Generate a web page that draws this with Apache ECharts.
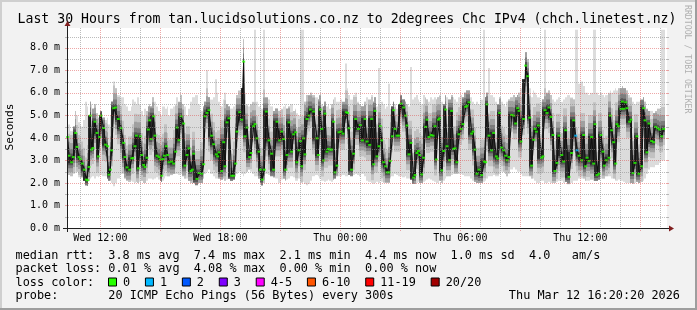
<!DOCTYPE html>
<html><head><meta charset="utf-8"><title>SmokePing</title>
<script src="https://cdn.jsdelivr.net/npm/echarts@6.0.0/dist/echarts.min.js"></script>
<style>html,body{margin:0;padding:0;background:#f2f2f2;overflow:hidden}#chart{width:697px;height:310px}</style>
</head><body><div id="chart"></div>
<script>
// ---------------- data (minutes since Wed 10:20, values in ms) ----------------
const titleText = 'Last 30 Hours from tan.lucidsolutions.co.nz to 2degrees Chc IPv4 (chch.linetest.nz)';
const unitText = 'Seconds';
const xTickMinutes = [100, 460, 820, 1180, 1540];
const xTickLabels = ['Wed 12:00', 'Wed 18:00', 'Thu 00:00', 'Thu 06:00', 'Thu 12:00'];
const yTickValues = [0, 1, 2, 3, 4, 5, 6, 7, 8];
const yMax = 8.88;

const minutes = [2,6,14,19,26,30,36,40,46,52,58,62,66,70,74,78,84,90,94,98,102,110,116,122,126,130,134,140,146,154,162,170,174,180,188,194,198,204,208,214,220,224,230,234,240,244,248,252,260,264,270,276,280,284,288,292,
298,302,306,314,320,326,330,336,342,350,354,360,366,372,376,380,390,396,404,410,414,420,426,434,440,448,452,456,464,470,474,480,486,494,500,506,510,518,524,530,534,540,548,552,560,564,570,576,580,586,592,
598,606,614,620,630,638,644,650,656,660,666,674,680,686,690,696,700,704,710,714,720,726,730,740,750,754,760,764,770,774,780,784,790,794,800,804,810,816,822,828,838,842,846,854,860,866,874,880,886,894,
900,908,914,920,924,930,936,940,944,950,956,960,966,970,976,980,984,990,996,1002,1010,1016,1020,1026,1032,1040,1044,1050,1054,1058,1064,1070,1076,1080,1086,1092,1098,1104,1108,1114,1118,1124,1130,1136,1140,1148,1154,1160,1164,1170,1176,1182,1188,1196,
1200,1206,1214,1218,1224,1230,1236,1244,1252,1256,1260,1266,1274,1280,1288,1292,1298,1304,1310,1316,1320,1326,1334,1340,1346,1352,1356,1362,1370,1376,1382,1388,1394,1400,1404,1408,1414,1424,1428,1434,1440,1446,1452,1458,1464,1470,1476,1484,1490,1496,
1506,1514,1520,1526,1530,1536,1544,1550,1556,1560,1566,1574,1580,1584,1590,1596,1602,1608,1612,1618,1626,1630,1634,1640,1646,1650,1654,1662,1666,1670,1676,1680,1688,1692,1698,1704,1710,1716,1724,1730,1734,1740,1746,1754,1760,1766,1772,1778,1784,1790];

const median = [4.04,3.21,2.92,3.15,4.22,3.60,3.15,3.06,2.86,2.59,2.15,2.12,2.71,4.99,3.48,3.55,4.72,4.22,3.18,4.04,4.99,4.44,3.70,3.63,2.37,2.59,3.45,5.32,5.35,4.84,4.43,3.78,3.15,2.69,2.59,3.09,3.11,3.63,4.10,2.65,4.07,3.24,2.80,2.71,3.12,4.37,4.78,3.95,4.96,4.10,3.21,3.15,3.04,2.32,3.06,3.21,
3.63,3.24,2.92,2.95,2.86,3.39,4.46,3.90,4.96,4.64,2.77,3.24,3.54,2.53,2.59,3.30,2.18,2.44,2.41,2.83,4.96,5.11,5.23,4.10,3.72,3.27,3.18,3.36,2.53,3.81,2.74,4.69,4.87,2.32,2.32,2.86,4.28,5.14,4.81,7.39,4.07,4.46,3.15,3.33,4.52,4.61,3.98,3.39,2.59,2.15,2.59,
5.17,3.89,3.30,2.59,4.72,3.89,4.28,3.95,2.59,3.24,4.69,3.39,4.16,4.25,2.92,3.45,3.86,2.74,3.98,3.27,4.84,4.99,5.26,5.17,3.98,3.24,5.26,4.40,3.00,5.08,3.39,3.51,3.48,3.48,4.72,2.47,2.77,4.25,4.28,4.19,5.14,5.11,4.43,2.59,3.30,4.84,4.40,4.57,3.89,4.84,
3.84,3.69,4.84,2.83,5.20,3.18,3.63,4.52,3.89,2.92,2.74,2.47,2.47,2.98,4.07,5.23,4.40,4.10,4.10,5.52,5.35,4.99,4.55,3.27,3.78,2.24,2.35,3.33,3.42,3.24,2.38,3.12,4.49,4.81,4.04,4.13,4.10,4.52,3.04,4.81,4.87,2.56,3.42,5.26,3.63,3.01,5.20,3.51,3.54,2.92,4.16,4.40,4.61,5.38,
5.43,5.58,4.19,4.28,3.48,2.41,2.59,2.35,2.95,2.92,5.49,4.10,3.45,4.22,3.18,3.09,5.11,3.57,3.45,3.21,3.01,3.15,5.02,4.99,4.64,5.32,5.20,3.84,4.84,7.21,6.74,4.90,2.77,3.92,4.40,4.28,4.55,3.12,3.18,5.23,5.11,5.35,4.93,4.13,2.53,2.89,4.10,3.24,2.95,4.34,
2.27,3.33,4.78,4.10,3.45,3.21,3.01,4.13,2.74,3.12,2.98,4.04,2.86,4.61,2.35,2.41,4.13,3.39,2.77,3.01,3.12,4.99,4.34,3.81,2.86,4.61,4.52,5.29,5.61,5.29,5.58,5.32,4.72,4.81,2.44,2.89,4.07,2.41,2.74,5.32,4.78,3.36,4.64,3.86,3.81,4.49,4.43,4.37,4.07,4.40];

const smokeHi = [4.4,4.6,4.3,4.5,5.2,5.0,4.7,4.6,4.5,4.8,5.6,5.4,5.0,5.6,5.5,5.3,5.5,5.1,4.9,5.0,5.2,4.9,4.8,4.9,4.6,5.0,5.6,6.5,6.2,5.9,5.8,5.8,5.5,5.4,5.2,5.4,5.7,5.6,5.5,5.8,5.5,5.2,5.0,5.3,5.2,5.4,5.5,5.4,5.8,5.6,5.4,5.2,5.1,5.0,5.4,5.4,
5.3,5.4,5.0,5.3,5.4,5.5,5.8,5.6,5.9,5.5,5.4,5.0,5.3,5.6,5.8,5.8,5.9,5.5,5.2,5.4,5.6,7.0,5.8,5.7,5.8,6.6,6.0,5.6,5.4,5.7,6.0,5.5,5.4,5.3,5.4,5.5,5.9,6.1,6.2,8.4,6.0,5.5,5.4,5.5,5.6,8.8,5.6,5.4,5.5,5.3,8.8,
5.8,5.7,5.4,5.2,5.3,5.2,5.3,5.4,5.5,5.3,5.4,5.5,5.2,5.3,5.1,5.0,8.8,8.8,8.8,5.6,5.9,5.9,6.0,5.9,5.8,5.7,5.9,5.5,5.4,5.6,5.4,5.5,5.3,5.5,5.7,5.8,5.6,5.6,5.7,5.6,7.3,6.2,5.9,5.7,5.9,6.0,5.6,5.5,5.4,5.6,
5.8,5.7,5.9,5.6,5.8,5.4,7.1,5.5,5.6,5.5,5.3,5.4,6.4,5.3,5.4,5.6,5.5,5.3,5.5,5.9,5.7,5.6,5.5,5.4,7.15,5.7,5.8,5.9,5.7,5.6,5.5,5.9,5.8,5.7,5.6,5.8,5.7,5.8,5.7,5.8,5.9,5.6,5.5,5.9,5.8,5.7,5.9,5.8,5.7,5.6,5.8,5.9,5.8,6.0,
6.1,6.1,5.8,5.6,5.5,5.6,5.5,5.7,8.8,5.8,6.0,7.1,5.9,5.8,5.6,5.5,5.8,5.6,5.5,5.4,5.6,5.7,5.8,5.9,5.8,5.9,6.0,6.2,6.6,7.8,7.5,6.2,5.8,6.1,6.0,5.9,5.8,5.6,5.7,8.8,6.0,6.1,5.9,5.7,5.6,5.7,5.8,5.6,5.7,5.8,
5.9,5.8,5.7,8.8,8.8,6.4,6.5,6.3,6.0,6.0,5.9,6.0,8.8,8.8,6.0,5.9,6.0,5.9,5.8,5.9,6.0,6.1,6.0,6.1,6.2,6.1,6.2,6.2,6.3,6.2,6.2,6.1,5.9,5.8,5.6,5.5,5.6,5.6,5.7,5.8,5.6,5.3,5.2,5.2,5.1,5.2,5.3,5.3,8.8,8.8];

const smokeLo = [2.3,2.35,2.3,2.4,2.45,2.5,2.25,2.2,2.25,2.1,1.9,1.88,2.1,2.2,2.25,2.3,2.2,2.3,2.25,2.3,2.35,2.3,2.3,2.2,2.1,2.1,2.0,1.85,2.0,2.2,2.4,2.4,2.2,2.1,2.05,2.1,2.05,2.0,2.05,2.0,2.05,2.1,2.0,2.0,2.1,2.2,2.2,2.2,2.15,2.2,2.25,2.15,2.1,2.05,2.1,2.2,
2.3,2.3,2.3,2.35,2.4,2.4,2.4,2.35,2.4,2.3,2.2,2.2,2.1,2.0,1.95,2.0,1.9,2.0,2.0,2.2,2.4,2.5,2.6,2.4,2.3,2.2,2.2,2.2,2.15,2.2,2.1,2.15,2.2,2.1,2.15,2.3,2.4,2.5,2.4,2.3,2.4,2.5,2.6,2.5,2.4,2.3,2.3,2.2,2.0,1.9,2.0,
2.4,2.35,2.3,2.25,2.2,2.0,2.15,2.2,2.1,2.15,2.2,2.3,2.25,2.1,2.1,2.2,2.05,2.0,2.05,1.95,1.9,1.95,2.1,2.3,2.35,2.3,2.2,2.1,2.1,2.05,2.1,2.15,2.1,2.05,2.15,2.2,2.3,2.3,2.3,2.35,2.3,2.3,2.35,2.3,2.35,2.4,2.35,2.3,2.4,2.3,
2.1,2.05,2.0,1.95,2.0,2.05,2.0,2.1,2.05,2.0,2.0,2.0,2.0,2.2,2.3,2.3,2.4,2.35,2.3,2.3,2.25,2.3,2.2,2.2,2.15,1.95,1.95,2.0,2.05,2.0,2.0,2.05,2.1,2.15,2.2,2.15,2.1,2.05,2.0,2.0,2.1,2.0,2.1,2.2,2.3,2.3,2.35,2.4,2.4,2.4,2.4,2.4,2.35,2.3,
2.3,2.3,2.2,2.1,2.05,2.0,2.0,2.0,2.05,2.1,2.2,2.3,2.3,2.35,2.3,2.3,2.4,2.5,2.5,2.4,2.3,2.4,2.6,2.7,2.6,2.5,2.5,2.4,2.3,2.3,2.3,2.3,2.2,2.2,2.1,2.0,2.0,2.1,2.1,2.0,2.0,2.05,2.0,2.0,2.0,2.05,2.1,2.1,2.0,2.05,
1.95,2.0,2.1,2.1,2.1,2.2,2.2,2.2,2.1,2.1,2.1,2.15,2.1,2.1,2.1,2.15,2.2,2.2,2.2,2.3,2.3,2.3,2.2,2.2,2.1,2.1,2.15,2.1,2.1,2.05,2.0,2.0,2.0,2.0,1.95,2.0,2.05,2.0,2.05,2.1,2.2,2.4,2.6,2.7,2.7,2.8,2.8,2.9,3.0,3.0];

const lossOneAt = [1526, 1530];   // steps where 1 of 20 pings was lost

const statsRtt  = 'median rtt:  3.8 ms avg  7.4 ms max  2.1 ms min  4.4 ms now  1.0 ms sd  4.0   am/s';
const statsLoss = 'packet loss: 0.01 % avg  4.08 % max  0.00 % min  0.00 % now';
const lossTitle = 'loss color:';
const lossLabels = ['0', '1', '2', '3', '4-5', '6-10', '11-19', '20/20'];
const lossColors = ['#26ff00', '#00b8ff', '#0059ff', '#7e00ff', '#ff00ff', '#ff5500', '#ff0000', '#a10000'];
const probeLine = 'probe:       20 ICMP Echo Pings (56 Bytes) every 300s';
const stampText = 'Thu Mar 12 16:20:20 2026';
const watermark = 'RRDTOOL / TOBI OETIKER';

// ---------------- styling ----------------
const MONO = '"DejaVu Sans Mono", monospace';
const MINOR = 'rgba(143,143,143,0.6)';
const MAJOR = 'rgba(222,79,79,0.5)';
const AXIS = '#1f1f1f';
const ARROW = '#801f1f';
const CH = 7.13; // legend char advance

const N = minutes.length;
const edges = minutes.map((m, i) => [
  i === 0 ? 0 : (m + minutes[i - 1]) / 2,
  i === N - 1 ? m + 4 : (m + minutes[i + 1]) / 2
]);

// grid line list: hourly vertical lines, half-ms horizontal lines
const gridItems = [];
for (let t = 40; t < 1800; t += 60) gridItems.push({v: true, val: t, major: ((t - 100) % 180 === 0)});
for (let k = 1; k <= 17; k++) gridItems.push({v: false, val: k * 0.5, major: k % 2 === 0});

const chart = echarts.init(document.getElementById('chart'), null, {renderer: 'canvas'});

const graphics = [];
// 3D border
graphics.push({type: 'rect', shape: {x: 0, y: 0, width: 697, height: 2}, style: {fill: '#cfcfcf'}, silent: true});
graphics.push({type: 'rect', shape: {x: 0, y: 0, width: 2, height: 310}, style: {fill: '#cfcfcf'}, silent: true});
graphics.push({type: 'rect', shape: {x: 0, y: 308, width: 697, height: 2}, style: {fill: '#9e9e9e'}, silent: true});
graphics.push({type: 'rect', shape: {x: 695, y: 0, width: 2, height: 310}, style: {fill: '#9e9e9e'}, silent: true});
// title
graphics.push({type: 'text', x: 347, y: 19.5, style: {text: titleText, font: '13.2px ' + MONO, fill: '#000', textAlign: 'center', textVerticalAlign: 'middle'}, silent: true});
// unit
graphics.push({type: 'text', x: 10.5, y: 127, rotation: Math.PI / 2, style: {text: unitText, font: '11.1px ' + MONO, fill: '#000', textAlign: 'center', textVerticalAlign: 'middle'}, silent: true});
// legend rows
const rowY = [255.5, 269, 282.5, 296];
const legendFont = '11.85px ' + MONO;
graphics.push({type: 'text', x: 15.6, y: rowY[0], style: {text: statsRtt, font: legendFont, fill: '#000', textAlign: 'left', textVerticalAlign: 'middle'}, silent: true});
graphics.push({type: 'text', x: 15.6, y: rowY[1], style: {text: statsLoss, font: legendFont, fill: '#000', textAlign: 'left', textVerticalAlign: 'middle'}, silent: true});
graphics.push({type: 'text', x: 15.6, y: rowY[2], style: {text: lossTitle, font: legendFont, fill: '#000', textAlign: 'left', textVerticalAlign: 'middle'}, silent: true});
let lx = 108;
lossLabels.forEach((lab, i) => {
  graphics.push({type: 'rect', shape: {x: lx + 0.5, y: rowY[2] - 4.5, width: 8, height: 8}, style: {fill: lossColors[i], stroke: '#000', lineWidth: 1}, silent: true});
  graphics.push({type: 'text', x: lx + 15, y: rowY[2], style: {text: lab, font: legendFont, fill: '#000', textAlign: 'left', textVerticalAlign: 'middle'}, silent: true});
  lx = lx + 15 + lab.length * CH + 14.8;
});
graphics.push({type: 'text', x: 15.6, y: rowY[3], style: {text: probeLine, font: legendFont, fill: '#000', textAlign: 'left', textVerticalAlign: 'middle'}, silent: true});
graphics.push({type: 'text', x: 680, y: rowY[3], style: {text: stampText, font: legendFont, fill: '#000', textAlign: 'right', textVerticalAlign: 'middle'}, silent: true});
// watermark (vertical, top to bottom)
graphics.push({type: 'text', x: 687, y: 5, rotation: -Math.PI / 2, style: {text: watermark, font: '8.2px ' + MONO, fill: '#b0b0b0', textAlign: 'left', textVerticalAlign: 'middle'}, silent: true});

const smokeSeries = {
  type: 'custom', silent: true, clip: true, z: 2,
  data: minutes.map((m, i) => [m, median[i]]),
  renderItem(params, api) {
    const i = params.dataIndex;
    const x0 = Math.round(api.coord([edges[i][0], 0])[0]);
    const x1 = Math.round(api.coord([edges[i][1], 0])[0]);
    const w = Math.max(1, x1 - x0);
    const yHi = api.coord([0, smokeHi[i]])[1];
    const yLo = api.coord([0, smokeLo[i]])[1];
    const m = median[i];
    const mn = i < N - 1 ? median[i + 1] : m;
    const yTop = api.coord([0, Math.max(m, mn)])[1];
    const yBot = api.coord([0, Math.min(m, mn)])[1];
    const band = (padUp, padDn, color) => {
      const a = Math.max(yHi, yTop - padUp), b = Math.min(yLo, yBot + padDn);
      return {type: 'rect', shape: {x: x0, y: a, width: w, height: Math.max(0, b - a)}, style: {fill: color}};
    };
    return {type: 'group', children: [
      {type: 'rect', shape: {x: x0, y: yHi, width: w, height: yLo - yHi}, style: {fill: '#dcdcdc'}},
      band(22, 16, '#c2c2c2'), band(14, 10, '#a0a0a0'), band(8, 6, '#7c7c7c'), band(3.5, 3, '#545454'), band(1, 1, '#2a2a2a')
    ]};
  }
};

const coreSeries = {
  type: 'line', silent: true, z: 3, symbol: 'none', animation: false,
  data: minutes.map((m, i) => [m, median[i]]),
  lineStyle: {color: '#111', width: 1.1}
};

const medianSeries = {
  type: 'scatter', silent: true, z: 4, symbol: 'rect', symbolSize: [3, 2],
  data: minutes.map((m, i) => [m, median[i]]),
  itemStyle: {color: p => lossOneAt.indexOf(minutes[p.dataIndex]) >= 0 ? lossColors[1] : lossColors[0]}
};

// dotted grid drawn as single pixels (1 on, 1 off), on top of the data like rrdtool
const gridSeries = {
  type: 'custom', silent: true, clip: false, z: 6,
  data: gridItems.map((g, i) => [i, 0]),
  renderItem(params, api) {
    const g = gridItems[params.dataIndex];
    const o = api.coord([0, 0]), e = api.coord([1800, yMax]);
    const xL = Math.round(o[0]), yB = Math.round(o[1]), xR = Math.round(e[0]), yT = Math.round(e[1]);
    const col = g.major ? MAJOR : MINOR;
    const kids = [];
    if (g.v) {
      const x = Math.round(api.coord([g.val, 0])[0]);
      const yStart = yB + (g.major ? 2 : 0);
      for (let y = yStart; y >= yT; y -= 2) kids.push({type: 'rect', shape: {x: x, y: y, width: 1, height: 1}, style: {fill: col}});
    } else {
      const y = Math.round(api.coord([0, g.val])[1]);
      for (let x = xL + 1; x < xR; x += 2) kids.push({type: 'rect', shape: {x: x, y: y, width: 1, height: 1}, style: {fill: col}});
      kids.push({type: 'rect', shape: {x: xL - 2, y: y, width: 2, height: 1}, style: {fill: col}});
      kids.push({type: 'rect', shape: {x: xR, y: y, width: 2, height: 1}, style: {fill: col}});
    }
    return {type: 'group', children: kids};
  }
};

const axesSeries = {
  type: 'custom', silent: true, clip: false, z: 8,
  data: [[0, 0]],
  renderItem(params, api) {
    const o = api.coord([0, 0]), e = api.coord([1800, yMax]);
    const xL = Math.round(o[0]), yB = Math.round(o[1]), xR = Math.round(e[0]), yT = Math.round(e[1]);
    return {type: 'group', children: [
      {type: 'rect', shape: {x: xL - 4, y: yB, width: xR - xL + 8, height: 1}, style: {fill: AXIS}},
      {type: 'rect', shape: {x: xL, y: yT - 4, width: 1, height: yB - yT + 8}, style: {fill: AXIS}},
      {type: 'polygon', shape: {points: [[xR + 2, yB - 2.5], [xR + 2, yB + 3.5], [xR + 7, yB + 0.5]]}, style: {fill: ARROW}},
      {type: 'polygon', shape: {points: [[xL - 2.5, yT - 2], [xL + 3.5, yT - 2], [xL + 0.5, yT - 7]]}, style: {fill: ARROW}}
    ]};
  }
};

chart.setOption({
  animation: false,
  backgroundColor: '#f2f2f2',
  grid: {left: 67, top: 28, width: 600, height: 200, show: true, backgroundColor: '#ffffff', borderWidth: 0},
  xAxis: {
    type: 'value', min: 0, max: 1800,
    axisLine: {show: false}, axisTick: {show: false}, splitLine: {show: false},
    axisLabel: {
      customValues: xTickMinutes,
      formatter: v => { const k = xTickMinutes.indexOf(Math.round(v)); return k >= 0 ? xTickLabels[k] : ''; },
      fontFamily: 'DejaVu Sans Mono', fontSize: 10, color: '#000', margin: 5
    }
  },
  yAxis: {
    type: 'value', min: 0, max: yMax,
    axisLine: {show: false}, axisTick: {show: false}, splitLine: {show: false},
    axisLabel: {
      customValues: yTickValues,
      formatter: v => v.toFixed(1) + ' m',
      fontFamily: 'DejaVu Sans Mono', fontSize: 10, color: '#000', margin: 7
    }
  },
  graphic: graphics,
  series: [smokeSeries, coreSeries, medianSeries, gridSeries, axesSeries]
});
</script></body></html>
